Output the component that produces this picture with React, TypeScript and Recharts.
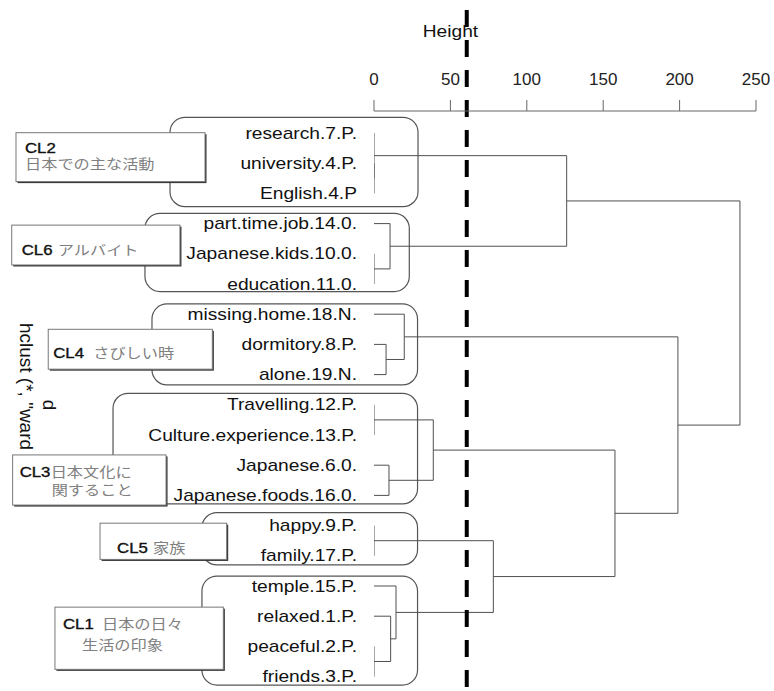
import React from "react";
import {
  ComposedChart,
  XAxis,
  YAxis,
  Line,
  ReferenceLine,
  ReferenceArea,
  ReferenceDot,
} from "recharts";

const LATIN = "'Liberation Sans', Arial, sans-serif";
const CJK = "'Noto Sans CJK JP', 'Noto Sans', sans-serif";
const STRETCH = 1.2;

// leaves, top to bottom
const leafNames = [
  "research.7.P.",
  "university.4.P.",
  "English.4.P",
  "part.time.job.14.0.",
  "Japanese.kids.10.0.",
  "education.11.0.",
  "missing.home.18.N.",
  "dormitory.8.P.",
  "alone.19.N.",
  "Travelling.12.P.",
  "Culture.experience.13.P.",
  "Japanese.6.0.",
  "Japanese.foods.16.0.",
  "happy.9.P.",
  "family.17.P.",
  "temple.15.P.",
  "relaxed.1.P.",
  "peaceful.2.P.",
  "friends.3.P.",
];

// hclust-style merge table: negative = leaf (1-based), positive = earlier merge
const mergePairs: [number, number][] = [
  [-2, -3],
  [-1, 1],
  [-5, -6],
  [-4, 3],
  [-8, -9],
  [-7, 5],
  [-10, -11],
  [-12, -13],
  [7, 8],
  [-14, -15],
  [-18, -19],
  [-17, 11],
  [-16, 12],
  [10, 13],
  [9, 14],
  [6, 15],
  [2, 4],
  [17, 16],
];
const mergeHeights = [
  0, 0, 0, 10.5, 7.9, 19.8, 0, 9.8, 38.8, 0, 0, 10.9, 14.4, 78.1, 157.7, 198.9,
  126.1, 239.5,
];

const heightTicks = [0, 50, 100, 150, 200, 250];
const cutHeight = 60.7;

const clusterNames = ["CL2", "CL6", "CL4", "CL3", "CL5", "CL1"];
const clusterNotes = [
  ["日本での主な活動"],
  ["アルバイト"],
  ["さびしい時"],
  ["日本文化に", "関すること"],
  ["家族"],
  ["日本の日々", "生活の印象"],
];

// annotation geometry (height units, leaf-position units)
const groupBoxes = [
  [-133.5, 28.8, -0.52, 2.44],
  [-149.9, 23.1, 2.66, 5.25],
  [-145.3, 28.5, 5.66, 8.34],
  [-170.8, 28.5, 8.62, 12.28],
  [-112.6, 28.5, 12.57, 14.3],
  [-112.6, 28.5, 14.67, 18.28],
];
const labelBoxes = [
  [-234.3, -110.6, -0.01, 1.61],
  [-237.1, -127, 3.05, 4.37],
  [-213.2, -105.8, 6.5, 7.82],
  [-236.5, -136.1, 10.66, 12.32],
  [-179.3, -96.4, 12.92, 14.12],
  [-208.8, -98.6, 15.7, 17.76],
];
// text offsets inside label boxes (px)
const titleOffsets = [
  [9, 15],
  [10, 25],
  [5, 24],
  [7, 17],
  [17, 25],
  [8, 17],
];
const noteOffsets = [
  [[9, 32]],
  [[46, 25]],
  [[45, 24]],
  [
    [38, 17],
    [39, 35],
  ],
  [[53, 25]],
  [
    [47, 17],
    [27, 38],
  ],
];

const Y_MIN = -0.7285;
const Y_MAX = 18.477;

const mergeY: number[] = [];
const child = (c: number) =>
  c < 0
    ? { h: 0, pos: -c - 1 }
    : { h: mergeHeights[c - 1], pos: mergeY[c - 1] };
const branches = mergePairs.map(([a, b], k) => {
  const A = child(a);
  const B = child(b);
  const H = mergeHeights[k];
  mergeY[k] = (A.pos + B.pos) / 2;
  return [A, { h: H, pos: A.pos }, { h: H, pos: B.pos }, B];
});

function StretchText({ x, y, fill, size, family, anchor, heavy, children }: any) {
  return (
    <text
      transform={`translate(${x},${y}) scale(${STRETCH},1)`}
      textAnchor={anchor || "start"}
      dy="0.35em"
      fill={fill}
      stroke={heavy ? fill : undefined}
      strokeWidth={heavy ? 0.35 : undefined}
      fontSize={size}
      fontFamily={family}
    >
      {children}
    </text>
  );
}

function LeafTick({ x, y, payload }: any) {
  return (
    <StretchText x={x} y={y} fill="#111" size={16} family={LATIN} anchor="end">
      {leafNames[payload.value]}
    </StretchText>
  );
}

function LabelBox({ x, y, width, height, idx }: any) {
  const [tx, ty] = titleOffsets[idx];
  return (
    <g>
      <rect x={x + 1.5} y={y + 1.5} width={width} height={height} fill="#333" />
      <rect x={x} y={y} width={width} height={height} fill="#fff" stroke="#777" />
      <StretchText x={x + tx} y={y + ty} fill="#111" size={14} family={LATIN} heavy>
        {clusterNames[idx]}
      </StretchText>
      {clusterNotes[idx].map((n, j) => (
        <StretchText
          key={j}
          x={x + noteOffsets[idx][j][0]}
          y={y + noteOffsets[idx][j][1]}
          fill="#808080"
          size={13.5}
          family={CJK}
        >
          {n}
        </StretchText>
      ))}
    </g>
  );
}

export default function App() {
  return (
    <div style={{ position: "absolute", left: 0, top: 0, background: "#fff" }}>
      <ComposedChart
        width={774}
        height={691}
        margin={{ top: 81, right: 18, bottom: 0, left: 174 }}
      >
        <XAxis
          type="number"
          dataKey="h"
          orientation="top"
          domain={[0, 250]}
          ticks={heightTicks}
          interval={0}
          allowDataOverflow
          height={30}
          tickSize={11}
          tickMargin={15.5}
          stroke="#666"
          tick={{ fill: "#222", fontSize: 17, fontFamily: LATIN }}
        />
        <YAxis
          type="number"
          dataKey="pos"
          domain={[Y_MIN, Y_MAX]}
          reversed
          allowDataOverflow
          ticks={leafNames.map((_, i) => i)}
          interval={0}
          width={200}
          axisLine={false}
          tickLine={false}
          tickSize={0}
          tickMargin={17}
          tick={<LeafTick />}
        />
        {groupBoxes.map(([x1, x2, y1, y2], i) => (
          <ReferenceArea
            key={`g${i}`}
            x1={x1}
            x2={x2}
            y1={y1}
            y2={y2}
            ifOverflow="visible"
            shape={(p: any) => (
              <rect
                x={p.x}
                y={p.y}
                width={p.width}
                height={p.height}
                rx={15}
                fill="none"
                stroke="#555"
                strokeWidth={1.2}
              />
            )}
          />
        ))}
        {labelBoxes.map(([x1, x2, y1, y2], i) => (
          <ReferenceArea
            key={`l${i}`}
            x1={x1}
            x2={x2}
            y1={y1}
            y2={y2}
            ifOverflow="visible"
            shape={(p: any) => <LabelBox {...p} idx={i} />}
          />
        ))}
        {branches.map((b, i) => (
          <Line
            key={`b${i}`}
            data={b}
            dataKey="pos"
            type="linear"
            stroke="#505050"
            strokeWidth={1}
            dot={false}
            activeDot={false}
            legendType="none"
            isAnimationActive={false}
          />
        ))}
        <ReferenceDot
          x={50}
          y={-3.19}
          ifOverflow="visible"
          shape={(p: any) => (
            <text
              transform={`translate(${p.cx},${p.cy}) scale(${STRETCH},1)`}
              textAnchor="middle"
              fill="#111"
              fontSize={16}
              fontFamily={LATIN}
            >
              Height
            </text>
          )}
        />
        <ReferenceDot
          x={-231.7}
          y={6.29}
          ifOverflow="visible"
          shape={(p: any) => (
            <text
              transform={`translate(${p.cx},${p.cy}) rotate(90)`}
              fill="#111"
              fontSize={19}
              fontFamily={LATIN}
            >
              hclust (*, "ward
            </text>
          )}
        />
        <ReferenceDot
          x={-216.6}
          y={8.83}
          ifOverflow="visible"
          shape={(p: any) => (
            <text
              transform={`translate(${p.cx},${p.cy}) rotate(90)`}
              fill="#111"
              fontSize={19}
              fontFamily={LATIN}
            >
              d
            </text>
          )}
        />
        <ReferenceLine
          segment={[
            { x: cutHeight, y: -4.07 },
            { x: cutHeight, y: 18.8 },
          ]}
          stroke="#000"
          strokeWidth={4}
          strokeDasharray="17 13"
          ifOverflow="visible"
        />
      </ComposedChart>
    </div>
  );
}
